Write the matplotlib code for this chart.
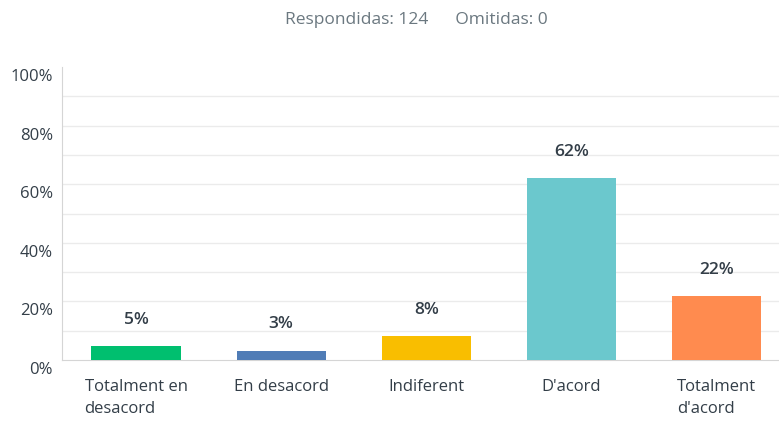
import matplotlib.pyplot as plt
import matplotlib.transforms as mtransforms

categories = ['Totalment en\ndesacord', 'En desacord', 'Indiferent', "D'acord", "Totalment\nd'acord"]
counts = [6, 4, 10, 77, 27]
total = 124
omitted = 0
colors = ['#00BF6F', '#507CB6', '#F9BE00', '#6BC8CD', '#FF8B4F']
yticks = [0, 20, 40, 60, 80, 100]

percents = [100.0 * c / total for c in counts]

plt.rcParams['font.family'] = ['Open Sans', 'DejaVu Sans']

fig = plt.figure(figsize=(7.79, 4.21), dpi=100)
ax = fig.add_axes([62 / 779, 61 / 421, 1 - 62 / 779, 293 / 421])

x = list(range(len(categories)))
ax.bar(x, percents, width=0.615, color=colors, zorder=3)

for xi, p in zip(x, percents):
    ax.annotate('%d%%' % round(p), (xi, p), xytext=(0, 13), textcoords='offset points',
                ha='center', va='bottom', fontsize=12.5, fontweight='semibold', color='#333e48')

ax.set_xlim(-0.51, 4.43)
ax.set_ylim(0, 100)
for v in range(10, 100, 10):
    ax.axhline(v, color='#ebebeb', lw=1, zorder=1)

# y labels drawn by hand, a little below their gridlines like the original
ax.set_yticks([])
trans = mtransforms.blended_transform_factory(ax.transAxes, ax.transData)
trans = trans + mtransforms.ScaledTranslation(-9 / 100, -10 / 100, fig.dpi_scale_trans)
for v in yticks:
    ax.text(0, v, '%d%%' % v, transform=trans, ha='right', va='center',
            fontsize=12, color='#333e48')

ax.set_xticks(x)
ax.set_xticklabels(categories, multialignment='left', linespacing=1.45)
ax.tick_params(axis='x', length=0, labelsize=12, labelcolor='#333e48', pad=14)

for side in ['top', 'right']:
    ax.spines[side].set_visible(False)
ax.spines['left'].set_color('#d5d5d5')
ax.spines['bottom'].set_color('#d5d5d5')

fig.text(0.534, 0.952, 'Respondidas: %d      Omitidas: %d' % (total, omitted),
         ha='center', va='center', fontsize=12.5, color='#6b7880')

fig.savefig('out.png', dpi=100)
